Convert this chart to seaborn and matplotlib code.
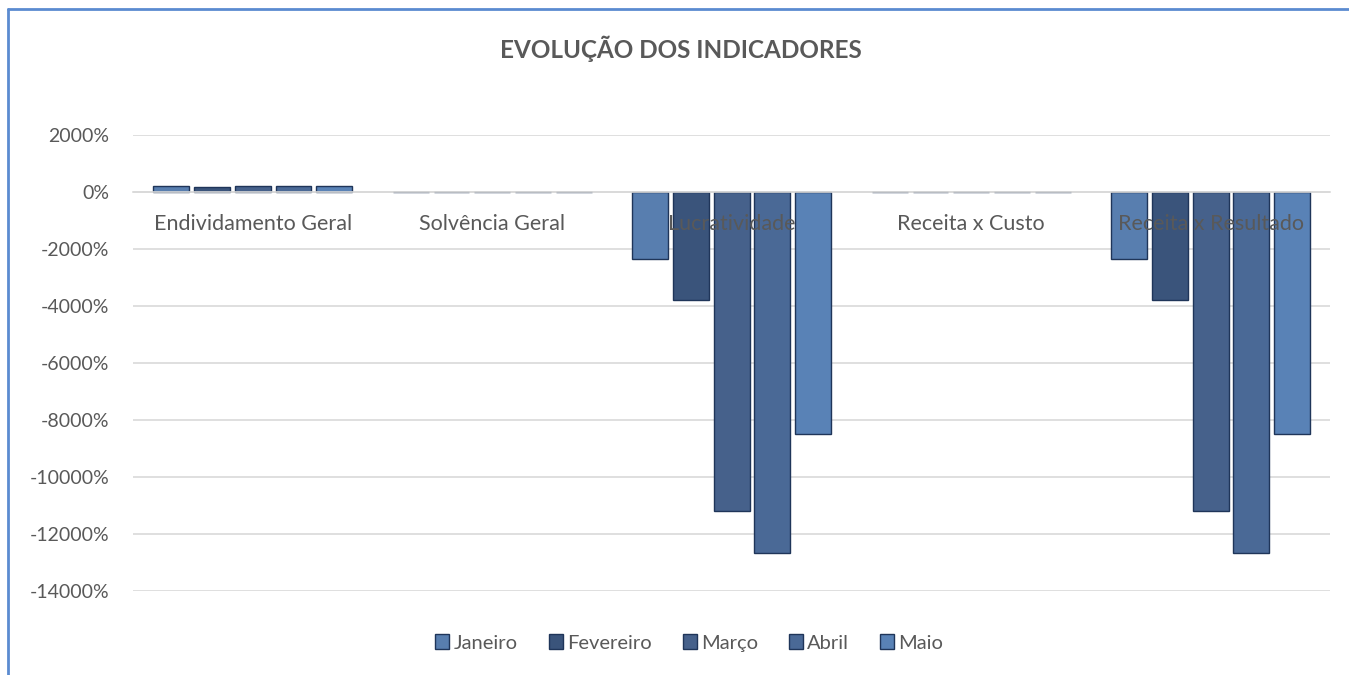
import matplotlib
matplotlib.use("Agg")
import matplotlib.pyplot as plt
import matplotlib.ticker as mticker
from matplotlib.lines import Line2D
import seaborn as sns
import pandas as pd

categories = ["Endividamento Geral", "Solvência Geral", "Lucratividade",
              "Receita x Custo", "Receita x Resultado"]
months = ["Janeiro", "Fevereiro", "Março", "Abril", "Maio"]

# values in percent, one list per month (order follows categories)
janeiro = [200, 3, -2350, 2, -2350]
fevereiro = [190, 3, -3790, 2, -3790]
marco = [210, 3, -11190, 2, -11190]
abril = [205, 3, -12670, 2, -12670]
maio = [215, 3, -8490, 2, -8490]

series = [janeiro, fevereiro, marco, abril, maio]
colors = ["#4a7cbd", "#2f5286", "#3a5f96", "#3d67a3", "#4a80c5"]

rows = []
for m, vals in zip(months, series):
    for c, v in zip(categories, vals):
        rows.append({"Categoria": c, "Mês": m, "Valor": v})
df = pd.DataFrame(rows)

sns.set_theme(style="white")
plt.rcParams["font.family"] = ["Lato", "DejaVu Sans"]

fig = plt.figure(figsize=(13.49, 6.75), dpi=100)
ax = fig.add_axes([0.0986, 0.1244, 0.8876, 0.6756])

sns.barplot(data=df, x="Categoria", y="Valor", hue="Mês", order=categories,
            hue_order=months, palette=colors, width=0.85, gap=0.12,
            edgecolor="#1f3559", linewidth=1.0, ax=ax, legend=True)

ax.set_ylim(-14000, 2000)
ax.set_xlim(-0.5, len(categories) - 0.5)
ax.yaxis.set_major_locator(mticker.MultipleLocator(2000))
ax.yaxis.set_major_formatter(mticker.FuncFormatter(lambda v, p: f"{v:.0f}%"))
ax.grid(axis="y", color="#d9d9d9", linewidth=1.2)
ax.grid(axis="x", visible=False)
ax.set_axisbelow(True)
ax.xaxis.set_zorder(3)

for s in ["top", "right", "left"]:
    ax.spines[s].set_visible(False)
ax.spines["bottom"].set_position(("data", 0))
ax.spines["bottom"].set_color("#d9d9d9")
ax.spines["bottom"].set_linewidth(1.2)

ax.set_xlabel("")
ax.set_ylabel("")
ax.tick_params(axis="x", length=0, pad=16, labelsize=15.5, labelcolor="#595959")
ax.tick_params(axis="y", length=0, pad=17, labelsize=14, labelcolor="#595959")

ax.legend(loc="center", bbox_to_anchor=(0.4645, -0.114), ncol=5, frameon=False,
          fontsize=14.5, labelcolor="#595959", handlelength=0.7,
          handleheight=0.7, handletextpad=0.2, columnspacing=1.55)

fig.text(0.505, 0.928, "EVOLUÇÃO DOS INDICADORES", ha="center", va="center",
         fontsize=17.5, fontweight="bold", color="#595959")

# chart-area border (top and left edges visible)
fig.add_artist(Line2D([0.006, 1.0], [0.987, 0.987], transform=fig.transFigure,
                      color="#5b8bd0", linewidth=2))
fig.add_artist(Line2D([0.006, 0.006], [0.0, 0.987], transform=fig.transFigure,
                      color="#5b8bd0", linewidth=2))

fig.savefig("out.png", dpi=100, facecolor="white")
